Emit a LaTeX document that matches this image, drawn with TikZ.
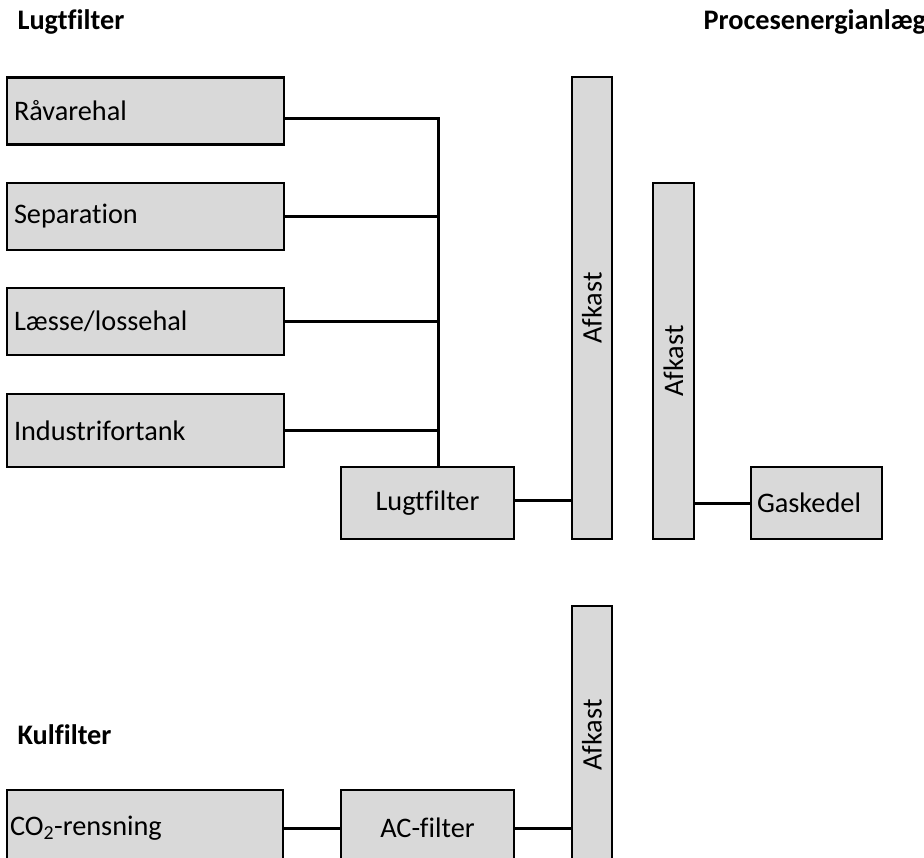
\documentclass[tikz,border=0pt]{standalone}
\usepackage{fontspec}
\setmainfont{Carlito}[Ligatures=NoCommon]
\usepackage{tikz}
\definecolor{boxfill}{rgb}{0.85, 0.85, 0.85}

\begin{document}
\begin{tikzpicture}[x=1pt, y=-1pt, font=\fontsize{28.3}{34}\selectfont,
	box/.style={draw=black, fill=boxfill, line width=2.4pt, inner sep=0pt, minimum height=67pt},
	leftbox/.style={box, text width=263pt, inner xsep=7pt, align=left},
	stack/.style={draw=black, fill=boxfill, line width=2.4pt, minimum width=40pt},
	title/.style={anchor=base west, font=\fontsize{28.3}{34}\selectfont\bfseries},
	pipe/.style={line width=3pt}]
\useasboundingbox (0,0) rectangle (924,858);
\clip (0,0) rectangle (924,858);
% titles
\node[title] (tlug) at (14,30) {Lugtfilter};
\node[title] (tproc) at (700,30) {Procesenergianlæg};
\node[title] (tkul) at (14,744) {Kulfilter};
% sources
\node[leftbox] (raa) at (145.5,111) {Råvarehal};
\node[leftbox] (sep) at (145.5,216.5) {Separation};
\node[leftbox] (laes) at (145.5,321.5) {Læsse/lossehal};
\node[leftbox, minimum height=73pt] (ind) at (145.5,430.5) {Industrifortank};
% odour filter
\node[box, minimum width=173pt, minimum height=72pt] (lug) at (427.5,503) {Lugtfilter};
% stacks
\node[stack, minimum height=462pt] (afk1) at (592,308) {};
\node[rotate=90] at (afk1) {Afkast};
\node[stack, minimum width=41pt, minimum height=356pt] (afk2) at (673.5,361) {};
\node[rotate=90] at (afk2) {Afkast};
% boiler
\node[leftbox, text width=119pt, inner xsep=6pt, minimum height=72pt] (gas) at (816.5,503) {Gaskedel};
% carbon filter
\node[leftbox, text width=270pt, inner xsep=3pt, minimum height=76pt] (co2) at (145,828) {CO\textsubscript{2}-rensning};
\node[box, minimum width=173pt, minimum height=76pt] (ac) at (427.5,828) {AC-filter};
\node[stack, minimum height=258pt] (afk3) at (592,735) {};
\node[rotate=90] at (afk3) {Afkast};

% ducts
\coordinate (trunk) at (438,119);
\draw[pipe] ([yshift=-8pt]raa.east) -- (trunk) -- (trunk |- lug.north);
\draw[pipe] (sep.east) -- (sep.east -| trunk);
\draw[pipe] (laes.east) -- (laes.east -| trunk);
\draw[pipe] (ind.east) -- (ind.east -| trunk);
\draw[pipe] ([yshift=3pt]lug.east) -- ([yshift=3pt]lug.east -| afk1.west);
\draw[pipe] (afk2.east |- gas.west) -- (gas.west);
\draw[pipe] (co2.east) -- (ac.west);
\draw[pipe] (ac.east) -- (ac.east -| afk3.west);
\end{tikzpicture}
\end{document}
